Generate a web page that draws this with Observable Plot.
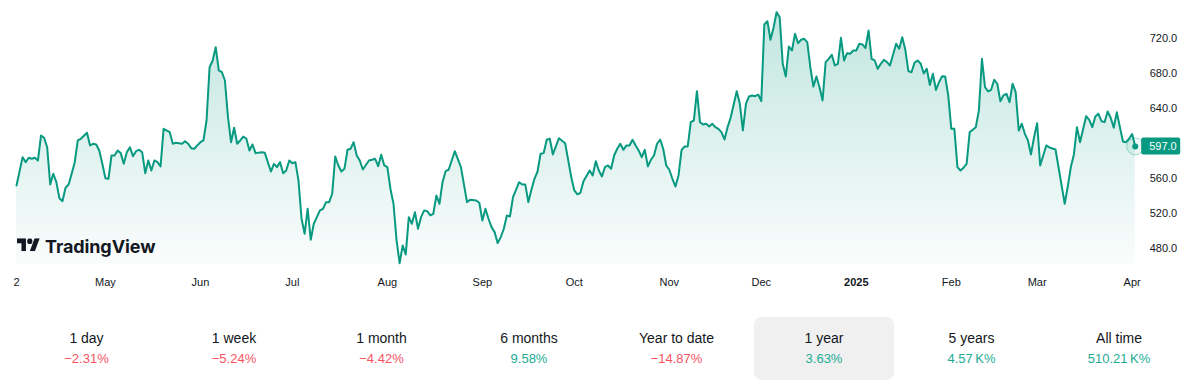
<!DOCTYPE html>
<html>
<head>
<meta charset="utf-8">
<script src="https://cdn.jsdelivr.net/npm/d3@7"></script>
<script src="https://cdn.jsdelivr.net/npm/@observablehq/plot@0.6"></script>
<style>
  html, body { margin: 0; padding: 0; background: #ffffff; }
  body { width: 1200px; height: 385px; overflow: hidden; font-family: "Liberation Sans", Arial, sans-serif; }
  #wrap { position: relative; width: 1200px; height: 385px; }
  #chart { position: absolute; left: 0; top: 0; }
  #logo { position: absolute; left: 0; top: 230px; }
  #stats { position: absolute; left: 12.75px; top: 317px; height: 63px; display: flex; }
  .cell { position: relative; width: 147.5px; height: 63px; }
  .cell.active::before { content: ""; position: absolute; left: 3.75px; top: 0; width: 140px; height: 63px; background: #f0f0f0; border-radius: 8px; }
  .lab { position: absolute; left: 0; right: 0; top: 12.5px; text-align: center; font-size: 14px; line-height: 17px; color: #131722; }
  .val { position: absolute; left: 0; right: 0; top: 33.5px; text-align: center; font-size: 13px; line-height: 16px; }
</style>
</head>
<body>
<div id="wrap">
  <div id="chart"></div>
  <svg id="logo" width="170" height="30" viewBox="0 0 170 30">
    <svg x="17" y="8.3" width="23" height="13" viewBox="0 4 36 18" preserveAspectRatio="none">
      <path d="M14 22H7V11H0V4h14v18zM28 22h-8l7.5-18h8L28 22z" fill="#131722"/>
      <circle cx="20" cy="8" r="4" fill="#131722"/>
    </svg>
    <text x="45" y="22.5" font-family="Inter, 'Open Sans', sans-serif" font-weight="700" font-size="18" letter-spacing="-0.1" fill="#131722">TradingView</text>
  </svg>
  <div id="stats"></div>
</div>
<script>
// ---- Data ----
const dates = [
"2024-04-02","2024-04-04","2024-04-05","2024-04-06","2024-04-07","2024-04-08","2024-04-09","2024-04-10","2024-04-11","2024-04-12",
"2024-04-13","2024-04-14","2024-04-15","2024-04-16","2024-04-17","2024-04-18","2024-04-19","2024-04-20","2024-04-21","2024-04-22",
"2024-04-23","2024-04-25","2024-04-26","2024-04-27","2024-04-28","2024-04-29","2024-04-30","2024-05-01","2024-05-02","2024-05-03",
"2024-05-04","2024-05-05","2024-05-06","2024-05-07","2024-05-08","2024-05-09","2024-05-10","2024-05-11","2024-05-12","2024-05-13",
"2024-05-14","2024-05-15","2024-05-16","2024-05-17","2024-05-18","2024-05-19","2024-05-20","2024-05-22","2024-05-23","2024-05-24",
"2024-05-26","2024-05-27","2024-05-28","2024-05-29","2024-05-30","2024-05-31","2024-06-01","2024-06-02","2024-06-03","2024-06-04",
"2024-06-05","2024-06-06","2024-06-07","2024-06-08","2024-06-09","2024-06-10","2024-06-11","2024-06-12","2024-06-13","2024-06-14",
"2024-06-15","2024-06-16","2024-06-17","2024-06-18","2024-06-19","2024-06-21","2024-06-22","2024-06-23","2024-06-24","2024-06-25",
"2024-06-26","2024-06-27","2024-06-28","2024-06-29","2024-06-30","2024-07-01","2024-07-02","2024-07-03","2024-07-04","2024-07-05",
"2024-07-06","2024-07-07","2024-07-08","2024-07-09","2024-07-10","2024-07-11","2024-07-12","2024-07-13","2024-07-14","2024-07-15",
"2024-07-16","2024-07-17","2024-07-18","2024-07-19","2024-07-20","2024-07-21","2024-07-22","2024-07-23","2024-07-24","2024-07-26",
"2024-07-27","2024-07-28","2024-07-29","2024-07-30","2024-07-31","2024-08-01","2024-08-02","2024-08-03","2024-08-04","2024-08-05",
"2024-08-06","2024-08-07","2024-08-08","2024-08-09","2024-08-10","2024-08-11","2024-08-12","2024-08-13","2024-08-14","2024-08-15",
"2024-08-16","2024-08-17","2024-08-18","2024-08-19","2024-08-20","2024-08-21","2024-08-23","2024-08-25","2024-08-27","2024-08-28",
"2024-08-30","2024-08-31","2024-09-01","2024-09-02","2024-09-03","2024-09-04","2024-09-05","2024-09-06","2024-09-07","2024-09-08",
"2024-09-09","2024-09-10","2024-09-11","2024-09-13","2024-09-14","2024-09-15","2024-09-16","2024-09-17","2024-09-18","2024-09-19",
"2024-09-20","2024-09-21","2024-09-22","2024-09-23","2024-09-24","2024-09-26","2024-09-28","2024-09-30","2024-10-01","2024-10-02",
"2024-10-03","2024-10-04","2024-10-06","2024-10-07","2024-10-08","2024-10-09","2024-10-10","2024-10-11","2024-10-12","2024-10-13",
"2024-10-14","2024-10-15","2024-10-16","2024-10-17","2024-10-18","2024-10-19","2024-10-20","2024-10-21","2024-10-22","2024-10-23",
"2024-10-24","2024-10-25","2024-10-26","2024-10-27","2024-10-28","2024-10-29","2024-10-30","2024-10-31","2024-11-01","2024-11-02",
"2024-11-03","2024-11-04","2024-11-05","2024-11-06","2024-11-07","2024-11-08","2024-11-09","2024-11-10","2024-11-11","2024-11-12",
"2024-11-13","2024-11-14","2024-11-15","2024-11-16","2024-11-17","2024-11-18","2024-11-19","2024-11-20","2024-11-21","2024-11-23",
"2024-11-24","2024-11-25","2024-11-26","2024-11-27","2024-11-28","2024-11-29","2024-11-30","2024-12-01","2024-12-02","2024-12-03",
"2024-12-04","2024-12-05","2024-12-06","2024-12-07","2024-12-08","2024-12-09","2024-12-10","2024-12-11","2024-12-12","2024-12-13",
"2024-12-14","2024-12-15","2024-12-16","2024-12-17","2024-12-18","2024-12-19","2024-12-20","2024-12-21","2024-12-22","2024-12-23",
"2024-12-24","2024-12-25","2024-12-26","2024-12-27","2024-12-28","2024-12-29","2024-12-30","2024-12-31","2025-01-01","2025-01-02",
"2025-01-03","2025-01-04","2025-01-05","2025-01-06","2025-01-07","2025-01-08","2025-01-09","2025-01-10","2025-01-11","2025-01-12",
"2025-01-14","2025-01-15","2025-01-16","2025-01-17","2025-01-18","2025-01-19","2025-01-20","2025-01-21","2025-01-22","2025-01-23",
"2025-01-24","2025-01-25","2025-01-26","2025-01-27","2025-01-28","2025-01-29","2025-01-30","2025-01-31","2025-02-01","2025-02-02",
"2025-02-03","2025-02-04","2025-02-05","2025-02-06","2025-02-07","2025-02-08","2025-02-09","2025-02-10","2025-02-11","2025-02-12",
"2025-02-13","2025-02-14","2025-02-15","2025-02-16","2025-02-17","2025-02-18","2025-02-19","2025-02-20","2025-02-21","2025-02-22",
"2025-02-23","2025-02-24","2025-02-25","2025-02-26","2025-02-27","2025-02-28","2025-03-01","2025-03-02","2025-03-03","2025-03-04",
"2025-03-05","2025-03-07","2025-03-10","2025-03-11","2025-03-12","2025-03-13","2025-03-14","2025-03-15","2025-03-17","2025-03-18",
"2025-03-19","2025-03-20","2025-03-21","2025-03-22","2025-03-23","2025-03-24","2025-03-25","2025-03-26","2025-03-27","2025-03-28",
"2025-03-29","2025-03-30","2025-03-31","2025-04-01","2025-04-02"
];
const prices = [
552.3,584.7,579.0,584.0,582.9,584.0,580.9,609.5,606.9,596.1,
553.5,565.7,556.1,537.8,534.4,549.7,553.5,565.7,579.0,603.8,
605.7,612.6,598.1,600.0,599.2,592.3,577.1,560.7,560.0,586.6,
586.6,592.3,589.3,577.1,590.4,596.1,585.8,591.5,593.1,590.4,
566.4,580.9,569.5,580.9,579.0,574.1,617.1,613.3,600.0,601.1,
600.0,603.0,600.0,595.0,594.3,598.1,601.8,603.8,626.6,687.5,
695.2,710.4,683.8,681.8,672.3,630.4,601.8,618.3,600.0,603.8,
608.3,605.7,592.3,599.2,589.3,590.4,589.7,579.0,568.3,577.1,
573.3,579.0,566.4,569.5,580.9,577.8,579.0,558.1,514.3,497.1,
525.7,490.3,508.6,516.1,523.8,525.7,533.3,533.3,542.9,585.5,
575.2,568.3,571.4,593.1,594.3,601.8,586.6,580.9,570.6,580.9,
581.7,582.9,574.4,587.4,575.2,573.3,548.6,531.4,489.5,463.5,
483.8,473.5,516.1,508.6,521.8,502.9,516.1,523.8,523.0,518.1,
520.0,540.9,531.4,556.1,568.7,570.3,591.5,573.3,533.3,536.0,
535.2,532.6,512.3,525.7,514.3,504.7,499.0,486.4,493.3,502.9,
518.1,516.9,539.0,556.1,553.5,553.5,533.3,547.4,560.0,568.3,
588.6,589.3,604.6,605.7,587.8,606.4,600.7,561.8,546.6,542.1,
544.0,557.3,569.5,563.8,580.1,569.5,562.6,573.3,575.2,571.4,
586.6,594.3,600.0,593.1,598.1,598.1,604.6,598.1,592.3,584.7,
593.1,574.1,581.7,586.6,600.0,604.9,594.3,575.2,570.3,560.0,
551.2,563.8,593.1,596.9,596.9,624.7,626.6,660.1,624.7,622.1,
622.9,619.8,622.9,619.0,617.1,613.3,604.9,619.0,629.7,660.1,
645.7,615.2,645.7,654.1,655.2,654.4,656.3,648.7,736.3,740.1,
718.9,732.6,750.4,744.7,691.4,676.9,711.2,706.6,725.7,715.0,
718.9,720.0,716.1,687.5,665.5,676.9,664.7,649.5,693.3,697.1,
701.7,689.5,691.4,721.1,695.2,703.5,702.9,706.6,706.6,714.3,
713.5,709.3,729.5,697.1,695.2,685.7,691.4,696.0,693.3,689.5,
714.3,708.6,721.8,707.4,683.0,681.8,692.6,695.2,691.8,680.3,
685.7,667.2,680.0,661.5,670.4,677.3,676.9,655.2,617.1,617.1,
573.3,569.5,572.6,577.1,613.3,616.0,619.0,638.1,697.1,664.7,
659.8,661.7,673.1,668.6,648.7,655.2,657.1,647.5,668.6,659.0,
615.2,622.9,611.4,603.8,587.8,607.5,623.5,575.2,586.6,598.1,
595.8,593.5,531.4,551.2,573.3,587.8,619.0,601.8,631.5,627.4,
619.0,631.2,634.3,625.8,624.7,636.9,629.7,618.3,636.1,619.0,
602.6,601.8,605.7,611.1,597.0
];
const xTickDates = ["2024-04-02","2024-05-01","2024-06-01","2024-07-01","2024-08-01","2024-09-01","2024-10-01","2024-11-01","2024-12-01","2025-01-01","2025-02-01","2025-03-01","2025-04-01"];
const xTickLabels = ["2","May","Jun","Jul","Aug","Sep","Oct","Nov","Dec","2025","Feb","Mar","Apr"];
const yTicks = [480, 520, 560, 640, 680, 720];
const periods = ["1 day","1 week","1 month","6 months","Year to date","1 year","5 years","All time"];
const changes = ["\u22122.31%","\u22125.24%","\u22124.42%","9.58%","\u221214.87%","3.63%","4.57\u202fK%","510.21\u202fK%"];
const activePeriod = "1 year";

// ---- Chart ----
const parse = d3.utcParse("%Y-%m-%d");
const data = dates.map((d, i) => ({date: parse(d), price: prices[i]}));
const last = data[data.length - 1];
const labelByTime = new Map(xTickDates.map((d, i) => [+parse(d), xTickLabels[i]]));
const yMin = 462, yMax = 756;
const NS = "http://www.w3.org/2000/svg";
const GREEN = "#089981";

const gradientMark = (index, scales) => {
  const defs = document.createElementNS(NS, "defs");
  const top = scales.y(d3.max(prices)), bottom = scales.y(yMin);
  defs.innerHTML = `<linearGradient id="tvfill" gradientUnits="userSpaceOnUse" x1="0" y1="${top}" x2="0" y2="${bottom}">
    <stop offset="0" stop-color="${GREEN}" stop-opacity="0.25"/>
    <stop offset="1" stop-color="${GREEN}" stop-opacity="0.02"/>
  </linearGradient>`;
  return defs;
};

const priceLabelMark = (index, scales, values, dims) => {
  const g = document.createElementNS(NS, "g");
  const y = scales.y(last.price);
  const x0 = dims.width - dims.marginRight;
  const rect = document.createElementNS(NS, "rect");
  rect.setAttribute("x", x0 + 6.5);
  rect.setAttribute("y", y - 8.5);
  rect.setAttribute("width", 39);
  rect.setAttribute("height", 17);
  rect.setAttribute("rx", 2);
  rect.setAttribute("fill", GREEN);
  const t = document.createElementNS(NS, "text");
  t.setAttribute("x", x0 + 14.5);
  t.setAttribute("y", y);
  t.setAttribute("dy", "0.35em");
  t.setAttribute("text-anchor", "start");
  t.setAttribute("fill", "#ffffff");
  t.setAttribute("font-size", "11");
  t.textContent = last.price.toFixed(1);
  g.appendChild(rect);
  g.appendChild(t);
  return g;
};

const chart = Plot.plot({
  width: 1200,
  height: 300,
  marginLeft: 16,
  marginRight: 65.3,
  marginTop: 6.8,
  marginBottom: 36,
  x: {type: "utc", domain: [parse("2024-04-02"), parse("2025-04-02")]},
  y: {domain: [yMin, yMax]},
  style: {fontFamily: "'Liberation Sans', Arial, sans-serif", fontSize: "11px", color: "#131722", background: "transparent", overflow: "visible"},
  marks: [
    gradientMark,
    Plot.areaY(data, {x: "date", y1: yMin, y2: "price", fill: "url(#tvfill)"}),
    Plot.lineY(data, {x: "date", y: "price", stroke: GREEN, strokeWidth: 2, strokeLinejoin: "round"}),
    Plot.axisX({ticks: xTickDates.map(parse), tickFormat: d => labelByTime.get(+d), tickSize: 0, tickPadding: 14, fill: "#131722"}),
    Plot.axisY({anchor: "right", ticks: yTicks, tickFormat: d => d.toFixed(1), tickSize: 0, tickPadding: 14.5, label: null, fill: "#131722"}),
    Plot.dot([last], {x: "date", y: "price", r: 8.5, fill: GREEN, fillOpacity: 0.08, stroke: GREEN, strokeOpacity: 0.35, strokeWidth: 1}),
    Plot.dot([last], {x: "date", y: "price", r: 3, fill: GREEN}),
    priceLabelMark
  ]
});
chart.querySelectorAll("text").forEach(t => { if (t.textContent === "2025") t.setAttribute("font-weight", "700"); });
document.getElementById("chart").appendChild(chart);

// ---- Performance row ----
const stats = document.getElementById("stats");
periods.forEach((p, i) => {
  const cell = document.createElement("div");
  cell.className = "cell" + (p === activePeriod ? " active" : "");
  const lab = document.createElement("div");
  lab.className = "lab";
  lab.textContent = p;
  const val = document.createElement("div");
  val.className = "val";
  val.textContent = changes[i];
  val.style.color = changes[i].startsWith("\u2212") ? "#F7525F" : "#22AB94";
  cell.appendChild(lab);
  cell.appendChild(val);
  stats.appendChild(cell);
});
</script>
</body>
</html>
